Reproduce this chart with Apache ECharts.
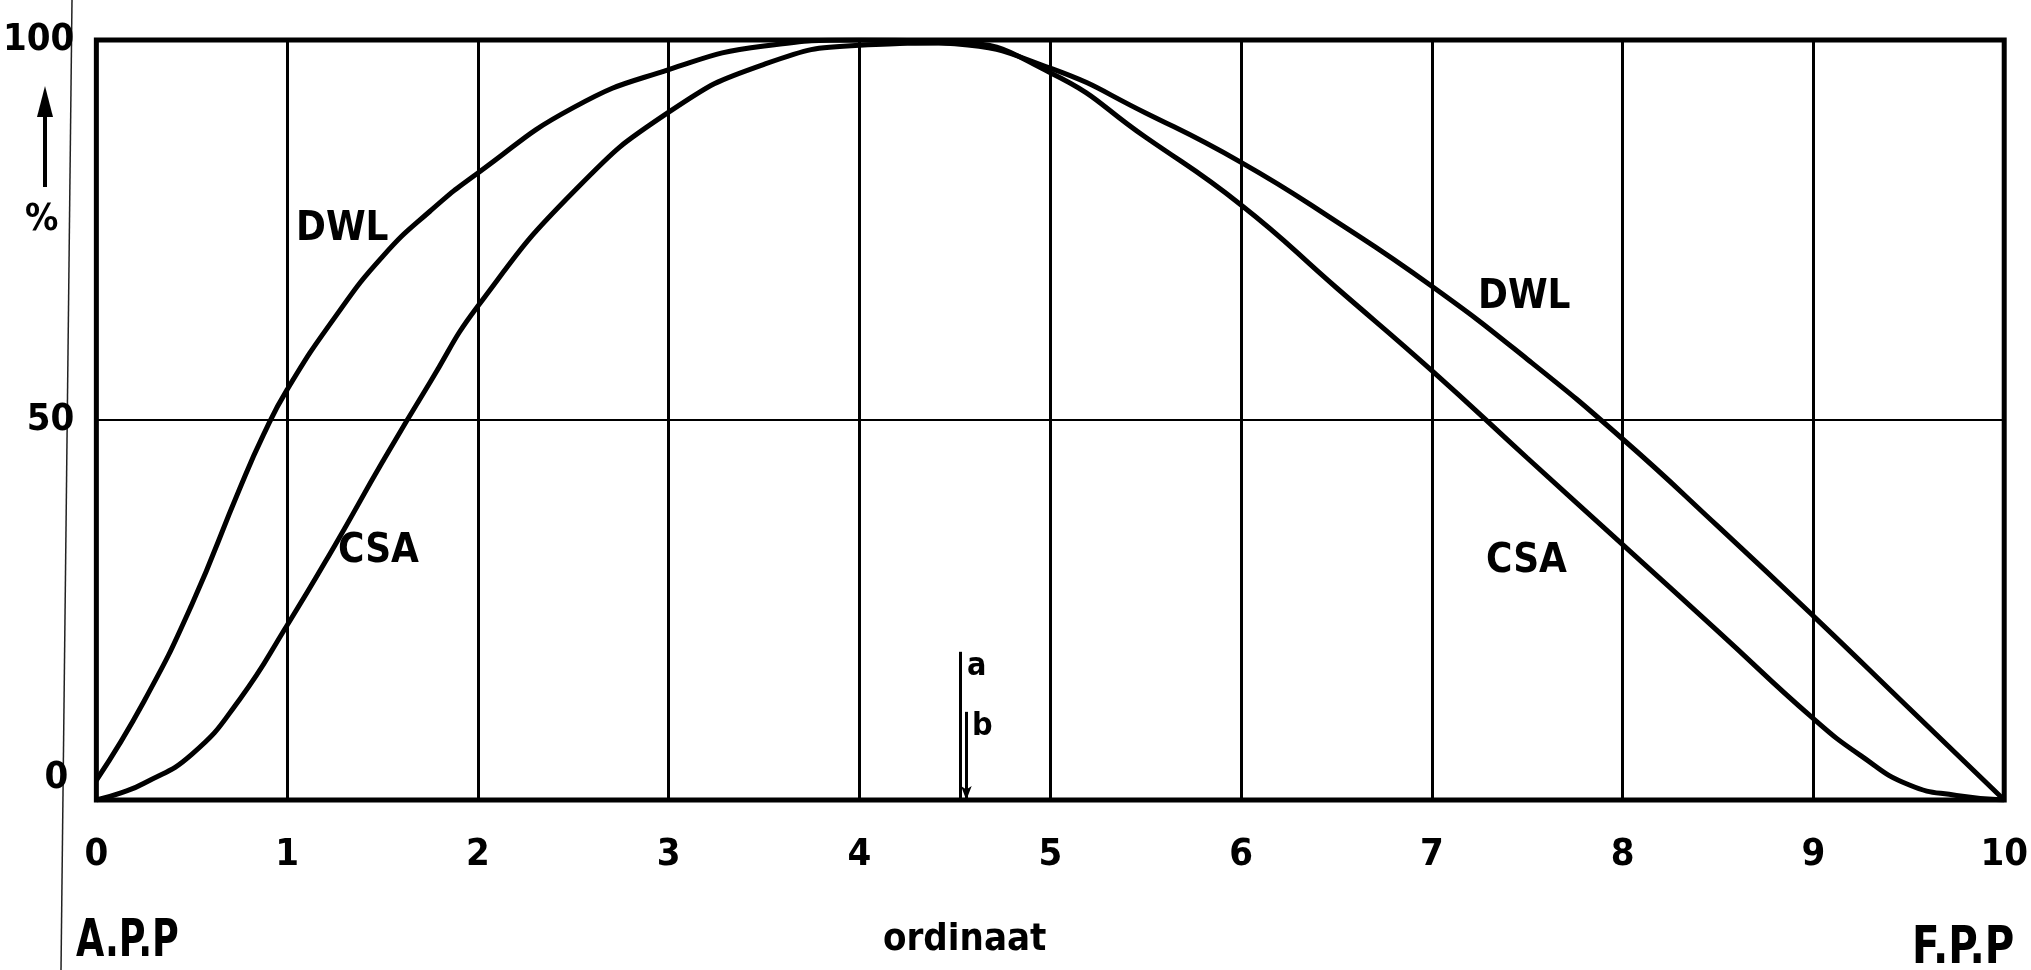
<!DOCTYPE html>
<html>
<head>
<meta charset="utf-8">
<script src="https://cdn.jsdelivr.net/npm/echarts@6/dist/echarts.min.js"></script>
<style>
  html, body { margin: 0; padding: 0; background: #fff; }
  #chart { width: 2031px; height: 970px; }
</style>
</head>
<body>
<div id="chart"></div>
<script>
// ordinate positions (0 = A.P.P, 10 = F.P.P) and percentages
const dwlX = [0, 0.25, 0.5, 0.75, 0.875, 1, 1.25, 1.5, 1.75, 2, 2.5, 3, 3.5, 4, 4.5, 5, 5.5, 6, 6.5, 7, 7.5, 8, 8.5, 9, 9.5, 10]
const dwlY = [2.6, 13, 25.7, 40.9, 48, 54, 63.5, 71.5, 77.5, 82.5, 91.1, 96.1, 99.2, 100, 99.5, 96.3, 90.4, 83.9, 76.1, 67.6, 58, 47.5, 36, 24.2, 12.1, 0]

const csaX = [0, 0.125, 0.25, 0.5, 0.75, 1, 1.25, 1.5, 1.75, 2, 2.5, 3, 3.5, 4, 4.5, 5, 5.5, 6, 6.5, 7, 7.5, 8, 8.5, 9, 9.25, 9.5, 9.75, 10]
const csaY = [0, 0.9, 2.2, 6.0, 13.2, 23, 33.5, 44.5, 55, 65, 80, 90.5, 96.8, 99.3, 99.6, 95.7, 87.2, 78.3, 67.4, 56.5, 45, 33.6, 22.2, 10.7, 5.8, 2.0, 0.6, 0]

// the two short marks near ordinate 4.5: [x, top]
const markA = [4.53, 19.5]
const markB = [4.56, 11.6]

const xTicks = [0, 1, 2, 3, 4, 5, 6, 7, 8, 9, 10]
const yTicks = [0, 50, 100]

const font = '"DejaVu Sans Condensed", "Liberation Sans Narrow", "DejaVu Sans", sans-serif'

const chart = echarts.init(document.getElementById('chart'))

const zip = (xs, ys) => xs.map((x, i) => [x, ys[i]])

const option = {
  backgroundColor: '#fff',
  animation: false,
  grid: {
    left: 95,
    right: 21,
    top: 40,
    bottom: 170,
    show: true,
    borderColor: '#000',
    borderWidth: 5
  },
  xAxis: {
    type: 'value',
    min: 0,
    max: 10,
    interval: 1,
    axisLine: { show: false },
    axisTick: { show: false },
    axisLabel: {
      color: '#000',
      fontFamily: font,
      fontWeight: 'bold',
      fontSize: 38,
      margin: 36,
      formatter: v => xTicks.includes(v) ? String(v) : ''
    },
    splitLine: { show: true, lineStyle: { color: '#000', width: 3 } }
  },
  yAxis: {
    type: 'value',
    min: 0,
    max: 100,
    interval: 50,
    axisLine: { show: false },
    axisTick: { show: false },
    axisLabel: {
      color: '#000',
      fontFamily: font,
      fontWeight: 'bold',
      fontSize: 38,
      margin: 22,
      formatter: v => yTicks.includes(v) ? (v === 0 ? '{z|0}' : String(v)) : '',
      rich: {
        z: {
          color: '#000',
          fontFamily: font,
          fontWeight: 'bold',
          fontSize: 38,
          padding: [0, 6, 44, 0]
        }
      }
    },
    splitLine: { show: true, lineStyle: { color: '#000', width: 2 } }
  },
  series: [
    {
      name: 'DWL',
      type: 'line',
      data: zip(dwlX, dwlY),
      smooth: 0.5,
      showSymbol: false,
      lineStyle: { color: '#000', width: 5 },
      z: 5
    },
    {
      name: 'CSA',
      type: 'line',
      data: zip(csaX, csaY),
      smooth: 0.5,
      showSymbol: false,
      lineStyle: { color: '#000', width: 5 },
      z: 5,
      markLine: {
        silent: true,
        symbol: ['none', 'arrow'],
        symbolSize: [8, 14],
        lineStyle: { color: '#000', width: 3, type: 'solid' },
        label: {
          show: true,
          position: 'start',
          formatter: '{b}',
          color: '#000',
          fontFamily: font,
          fontWeight: 'bold',
          fontSize: 32,
          offset: [16, 36]
        },
        data: [
          [
            { name: 'a', coord: [markA[0], markA[1]], symbol: 'none' },
            { coord: [markA[0], 0], symbol: 'none' }
          ],
          [
            { name: 'b', coord: [markB[0], markB[1]], symbol: 'none' },
            { coord: [markB[0], 0], symbol: 'arrow' }
          ]
        ]
      }
    }
  ],
  graphic: [
    // ruled margin line of the scanned sheet
    { type: 'line', shape: { x1: 72, y1: 0, x2: 61, y2: 970 }, style: { stroke: '#222', lineWidth: 1.5 }, silent: true },
    // upward arrow and % sign on the left
    { type: 'line', shape: { x1: 45, y1: 110, x2: 45, y2: 187 }, style: { stroke: '#000', lineWidth: 4 } },
    { type: 'polygon', shape: { points: [[37, 117], [45, 86], [53, 117]] }, style: { fill: '#000' } },
    { type: 'text', x: 25, y: 220, style: { text: '%', fill: '#000', font: 'bold 37px ' + font, verticalAlign: 'middle' } },
    // curve names
    { type: 'text', left: 296, top: 210, style: { text: 'DWL', fill: '#000', font: 'bold 40px ' + font } },
    { type: 'text', left: 338, top: 532, style: { text: 'CSA', fill: '#000', font: 'bold 40px ' + font } },
    { type: 'text', left: 1478, top: 278, style: { text: 'DWL', fill: '#000', font: 'bold 40px ' + font } },
    { type: 'text', left: 1486, top: 542, style: { text: 'CSA', fill: '#000', font: 'bold 40px ' + font } },
    // axis captions
    { type: 'text', left: 883, top: 921, style: { text: 'ordinaat', fill: '#000', font: 'bold 38px ' + font } },
    { type: 'text', x: 76, y: 942, scaleX: 0.78, style: { text: 'A.P.P', fill: '#000', font: 'bold 52px ' + font, verticalAlign: 'middle' } },
    { type: 'text', x: 1912, y: 949, scaleX: 0.86, style: { text: 'F.P.P', fill: '#000', font: 'bold 52px ' + font, verticalAlign: 'middle' } }
  ]
}

chart.setOption(option)

window.addEventListener('resize', () => chart.resize())
</script>
</body>
</html>
